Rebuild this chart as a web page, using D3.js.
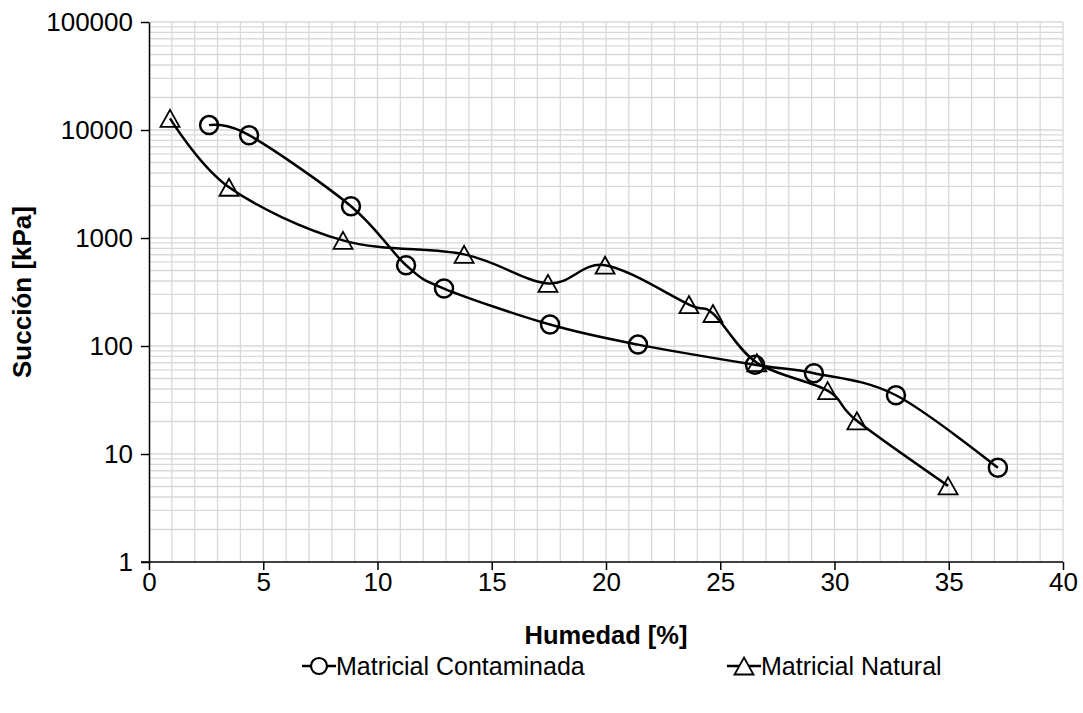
<!DOCTYPE html>
<html>
<head>
<meta charset="utf-8">
<script src="https://cdn.jsdelivr.net/npm/d3@7"></script>
<style>
  body { margin: 0; background: #fff; }
  text { font-family: 'Liberation Sans', Arial, sans-serif; fill: #000; }
</style>
</head>
<body>
<div id="chart"></div>
<script>
let width = 1083,
  height = 713,
  margin = { top: 22, right: 20, bottom: 151, left: 149 }

// data
let humContaminada = [2.63, 4.38, 8.84, 11.25, 12.91, 17.55, 21.4, 26.52, 29.1, 32.69, 37.15]
let succContaminada = [11100, 8950, 1970, 560, 340, 158, 103, 67, 56, 35, 7.45]
let humNatural = [0.92, 3.5, 8.49, 13.79, 17.46, 19.96, 23.63, 24.68, 26.6, 29.7, 30.98, 34.97]
let succNatural = [12800, 2950, 950, 705, 380, 560, 242, 200, 70, 38.6, 20.3, 5.07]
let xTicks = [0, 5, 10, 15, 20, 25, 30, 35, 40]
let yTicks = [1, 10, 100, 1000, 10000, 100000]
let seriesNames = ['Matricial Contaminada', 'Matricial Natural']

let svg = d3.select('#chart').append('svg')
  .attr('width', width)
  .attr('height', height)

let x = d3.scaleLinear()
  .domain([0, 40])
  .range([margin.left, width - margin.right])

let y = d3.scaleLog()
  .domain([1, 100000])
  .range([height - margin.bottom, margin.top])

// minor grid
let xGrid = d3.range(1, 41)
let yGrid = []
yTicks.slice(0, -1).forEach(function (d) {
  for (let k = 2; k <= 10; k++) yGrid.push(d * k)
})

svg.append('g').selectAll('line')
  .data(xGrid)
  .enter().append('line')
  .attr('x1', d => x(d)).attr('x2', d => x(d))
  .attr('y1', y(1)).attr('y2', y(100000))
  .attr('stroke', '#d9d9d9')
  .attr('stroke-width', 1.3)

svg.append('g').selectAll('line')
  .data(yGrid)
  .enter().append('line')
  .attr('x1', x(0)).attr('x2', x(40))
  .attr('y1', d => y(d)).attr('y2', d => y(d))
  .attr('stroke', '#d9d9d9')
  .attr('stroke-width', 1.3)

// axes
let xAxis = svg.append('g')
  .attr('transform', 'translate(0,' + y(1) + ')')
  .call(d3.axisBottom(x).tickValues(xTicks).tickSize(8).tickSizeOuter(0).tickPadding(3))
xAxis.select('.domain').remove()
xAxis.append('line')
  .attr('x1', x(0) - 8).attr('x2', x(40))
  .attr('stroke', '#000').attr('stroke-width', 1.5)
xAxis.selectAll('.tick line').attr('stroke-width', 1.5)
xAxis.selectAll('text').style('font-size', '26px').attr('font-family', null)

let yAxis = svg.append('g')
  .attr('transform', 'translate(' + x(0) + ',0)')
  .call(d3.axisLeft(y).tickValues(yTicks).tickFormat(d3.format('d')).tickSize(8).tickSizeOuter(0).tickPadding(8))
yAxis.select('.domain').attr('stroke-width', 1.5)
yAxis.selectAll('.tick line').attr('stroke-width', 1.5)
yAxis.selectAll('text').style('font-size', '26px').attr('font-family', null)

// titles
svg.append('text')
  .attr('x', (x(0) + x(40)) / 2)
  .attr('y', 644)
  .attr('text-anchor', 'middle')
  .style('font-size', '25.5px')
  .style('font-weight', 'bold')
  .text('Humedad [%]')

svg.append('text')
  .attr('transform', 'translate(31,' + ((y(1) + y(100000)) / 2) + ') rotate(-90)')
  .attr('text-anchor', 'middle')
  .style('font-size', '26px')
  .style('font-weight', 'bold')
  .text('Succión [kPa]')

// series
let line = d3.line()
  .x(d => x(d[0]))
  .y(d => y(d[1]))
  .curve(d3.curveCatmullRom.alpha(0))

let contaminada = humContaminada.map((d, i) => [d, succContaminada[i]])
let natural = humNatural.map((d, i) => [d, succNatural[i]])

function triangle (cx, cy) {
  let w = 19, h = 17
  return 'M' + cx + ',' + (cy - h / 2) + 'L' + (cx + w / 2) + ',' + (cy + h / 2) +
    'L' + (cx - w / 2) + ',' + (cy + h / 2) + 'Z'
}

svg.append('path')
  .datum(natural)
  .attr('d', line)
  .attr('fill', 'none')
  .attr('stroke', '#000')
  .attr('stroke-width', 2.5)

svg.append('path')
  .datum(contaminada)
  .attr('d', line)
  .attr('fill', 'none')
  .attr('stroke', '#000')
  .attr('stroke-width', 2.5)

svg.append('g').selectAll('path')
  .data(natural)
  .enter().append('path')
  .attr('d', d => triangle(x(d[0]), y(d[1])))
  .attr('fill', 'none')
  .attr('stroke', '#000')
  .attr('stroke-width', 1.8)

svg.append('g').selectAll('circle')
  .data(contaminada)
  .enter().append('circle')
  .attr('cx', d => x(d[0]))
  .attr('cy', d => y(d[1]))
  .attr('r', 9)
  .attr('fill', 'none')
  .attr('stroke', '#000')
  .attr('stroke-width', 2.5)

// legend
let legendY = 666
let leg1 = svg.append('g').attr('transform', 'translate(302,' + legendY + ')')
leg1.append('line').attr('x1', 0).attr('x2', 34).attr('stroke', '#000').attr('stroke-width', 2.5)
leg1.append('circle').attr('cx', 17).attr('r', 8).attr('fill', '#fff').attr('stroke', '#000').attr('stroke-width', 2.2)
leg1.append('text').attr('x', 34).attr('dy', '0.35em').style('font-size', '25px').text(seriesNames[0])

let leg2 = svg.append('g').attr('transform', 'translate(727,' + legendY + ')')
leg2.append('line').attr('x1', 0).attr('x2', 34).attr('stroke', '#000').attr('stroke-width', 2.5)
leg2.append('path').attr('d', triangle(17, 0)).attr('fill', '#fff').attr('stroke', '#000').attr('stroke-width', 1.8)
leg2.append('text').attr('x', 34).attr('dy', '0.35em').style('font-size', '25px').text(seriesNames[1])
</script>
</body>
</html>
